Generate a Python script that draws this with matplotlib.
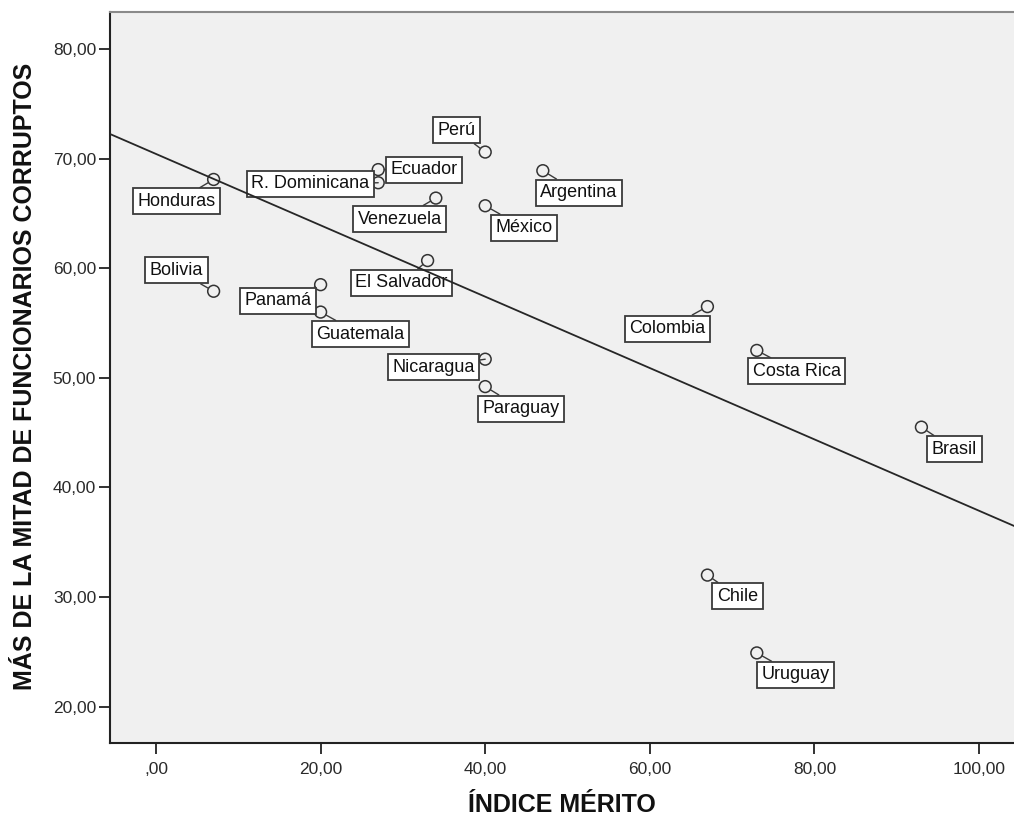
import numpy as np
import matplotlib
matplotlib.use('Agg')
import matplotlib.pyplot as plt
from matplotlib.ticker import FuncFormatter, FixedLocator

# ---------------- data ----------------
countries = ['Honduras', 'Bolivia', 'Panamá', 'Guatemala', 'R. Dominicana', 'Ecuador',
             'Venezuela', 'El Salvador', 'Perú', 'México', 'Nicaragua', 'Paraguay',
             'Argentina', 'Colombia', 'Costa Rica', 'Brasil', 'Chile', 'Uruguay']
indice_merito = [7, 7, 20, 20, 27, 27, 34, 33, 40, 40, 40, 40, 47, 67, 73, 93, 67, 73]
funcionarios_corruptos = [68.1, 57.9, 58.5, 56.0, 67.8, 69.0, 66.4, 60.7, 70.6, 65.7,
                          51.7, 49.2, 68.9, 56.5, 52.5, 45.5, 32.0, 24.9]
x_ticks = [0, 20, 40, 60, 80, 100]
y_ticks = [20, 30, 40, 50, 60, 70, 80]
x_title = 'ÍNDICE MÉRITO'
y_title = 'MÁS DE LA MITAD DE FUNCIONARIOS CORRUPTOS'

# label box offsets in pixels (dx right, dy down) -- layout only
label_offsets = {
    'Honduras': (-37, 22), 'Bolivia': (-37, -21), 'Panamá': (-43, 16),
    'Guatemala': (40, 22), 'R. Dominicana': (-68, 1), 'Ecuador': (46, 0),
    'Venezuela': (-36, 21), 'El Salvador': (-26, 22), 'Perú': (-29, -22),
    'México': (39, 22), 'Nicaragua': (-52, 8), 'Paraguay': (36, 22),
    'Argentina': (36, 22), 'Colombia': (-40, 22), 'Costa Rica': (40, 21),
    'Brasil': (33, 22), 'Chile': (30, 21), 'Uruguay': (39, 22),
}

plt.rcParams['font.family'] = ['Liberation Sans', 'DejaVu Sans']

W, H = 1014, 818
fig = plt.figure(figsize=(W / 100, H / 100), dpi=100)
fig.patch.set_facecolor('white')
ax = fig.add_axes([110 / W, 1 - 743 / H, (W - 110) / W, (743 - 12) / H])
ax.set_facecolor('#f0f0f0')

ax.set_xlim(-5.59, 104.25)
ax.set_ylim(16.68, 83.38)

dark = '#333333'
# scatter points
ax.scatter(indice_merito, funcionarios_corruptos, s=8.5 ** 2, facecolors='none',
           edgecolors=dark, linewidths=1.1, zorder=3)

# regression line (OLS)
slope, intercept = np.polyfit(indice_merito, funcionarios_corruptos, 1)
xl = np.array(ax.get_xlim())
ax.plot(xl, intercept + slope * xl, color='#262626', lw=1.3, zorder=6)

# labels
for name, xv, yv in zip(countries, indice_merito, funcionarios_corruptos):
    dx, dy = label_offsets[name]
    ax.annotate(name, xy=(xv, yv), xytext=(dx, -dy), textcoords='offset pixels',
                ha='center', va='center', fontsize=13, color='#111111', zorder=5,
                bbox=dict(boxstyle='square,pad=0.25', fc='white', ec='#3a3a3a', lw=1.3),
                arrowprops=dict(arrowstyle='-', color='#3a3a3a', lw=1.0,
                                shrinkA=0, shrinkB=4.3))

# ticks
def fmt(v, pos=None):
    s = f'{v:.2f}'.replace('.', ',')
    if s.startswith('0,'):
        s = s[1:]
    return s

ax.xaxis.set_major_locator(FixedLocator(x_ticks))
ax.yaxis.set_major_locator(FixedLocator(y_ticks))
ax.xaxis.set_major_formatter(FuncFormatter(fmt))
ax.yaxis.set_major_formatter(FuncFormatter(fmt))
ax.tick_params(axis='both', direction='out', length=8, width=1.3, color='#222222',
               labelsize=12.5, labelcolor='#2a2a2a')
ax.tick_params(axis='x', pad=5.5)
ax.tick_params(axis='y', pad=2)

for side in ['left', 'bottom']:
    ax.spines[side].set_color('#222222')
    ax.spines[side].set_linewidth(1.5)
ax.spines['top'].set_color('#8a8a8a')
ax.spines['top'].set_linewidth(1.5)
ax.spines['right'].set_visible(False)

fig.text(562 / W, 1 - 805 / H, x_title, ha='center', va='center',
         fontsize=18, fontweight='bold', color='#111111')
fig.text(25 / W, 1 - 376 / H, y_title, ha='center', va='center', rotation=90,
         fontsize=18, fontweight='bold', color='#111111')

fig.savefig('out.png', dpi=100)
